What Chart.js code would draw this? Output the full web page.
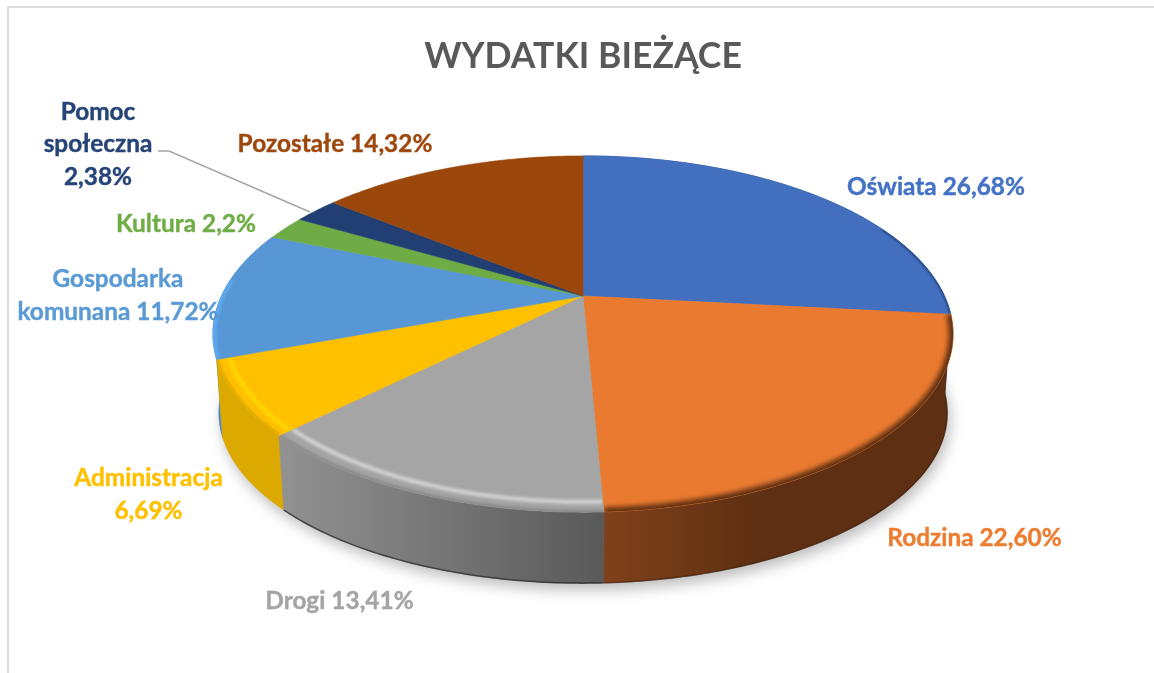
<!DOCTYPE html>
<html>
<head>
<meta charset="utf-8">
<title>Wydatki bieżące</title>
<script src="https://cdn.jsdelivr.net/npm/chart.js@4/dist/chart.umd.min.js"></script>
<style>
  html, body { margin: 0; padding: 0; background: #fff; overflow: hidden; }
  #frame { position: absolute; left: 7px; top: 6px; width: 1160px; height: 680px; border-left: 2px solid #dcdcdc; border-top: 2px solid #dcdcdc; }
  #wrap { position: absolute; left: 0; top: 0; width: 1154px; height: 673px; }
</style>
</head>
<body>
<div id="frame"></div>
<div id="wrap"><canvas id="myChart" width="1154" height="673"></canvas></div>
<script>
const categories = ["Oświata", "Rodzina", "Drogi", "Administracja", "Gospodarka komunana", "Kultura", "Pomoc społeczna", "Pozostałe"];
const shares = [26.68, 22.6, 13.41, 6.69, 11.72, 2.2, 2.38, 14.32];
const chartTitle = "WYDATKI BIEŻĄCE";

const sliceColors = ["#4270bf", "#ea7a30", "#a5a5a5", "#ffc000", "#5797d5", "#6fac46", "#223f74", "#9b470c"];
const textColors = ["#4472c4", "#ed7d31", "#a5a5a5", "#ffc000", "#5b9bd5", "#70ad47", "#264478", "#9e480e"];

// label text, one entry per line, centre x / y of each line
const labelLines = [
  { i: 0, text: "Oświata 26,68%", x: 936, y: 187 },
  { i: 1, text: "Rodzina 22,60%", x: 974.5, y: 538 },
  { i: 2, text: "Drogi 13,41%", x: 339.5, y: 601 },
  { i: 3, text: "Administracja", x: 148.5, y: 478 },
  { i: 3, text: "6,69%", x: 148.5, y: 511 },
  { i: 4, text: "Gospodarka", x: 118, y: 279 },
  { i: 4, text: "komunana 11,72%", x: 118, y: 312 },
  { i: 5, text: "Kultura 2,2%", x: 186, y: 224 },
  { i: 6, text: "Pomoc", x: 98, y: 112 },
  { i: 6, text: "społeczna", x: 98, y: 144 },
  { i: 6, text: "2,38%", x: 98, y: 177 },
  { i: 7, text: "Pozostałe 14,32%", x: 335, y: 144 },
];

// the pie lies flat and is seen from above: circle -> perspective projection
const cx = 583, cy = 296;
const radX = 361.5, radY = 170, persp = 0.2135;

function topPoint(a, r = 1) {
  const u = Math.cos(a) * r, v = Math.sin(a) * r;
  const s = 1 / (1 - persp * v);
  return [cx + radX * u * s, cy + radY * v * s];
}

function bottomPoint(a) {
  const p = topPoint(a);
  return [cx + (p[0] - cx) * 0.984, 413 + (p[1] - 334) * 0.955];
}

function arcAngles(start, end) {
  const out = [];
  const n = Math.max(2, Math.ceil((end - start) / 0.012));
  for (let k = 0; k <= n; k++) out.push(start + ((end - start) * k) / n);
  return out;
}

function wallFill(ctx, i) {
  if (i === 1) {
    const g = ctx.createLinearGradient(604, 0, 760, 0);
    g.addColorStop(0, "#7f411b");
    g.addColorStop(1, "#5e2f12");
    return g;
  }
  if (i === 2) {
    const g = ctx.createLinearGradient(285, 0, 604, 0);
    g.addColorStop(0, "#919191");
    g.addColorStop(1, "#595959");
    return g;
  }
  if (i === 3) return "#dca900";
  if (i === 4) return "#4a87c5";
  return "#2f4f85";
}

function drawShadow(ctx) {
  ctx.save();
  ctx.filter = "blur(7px)";
  ctx.fillStyle = "rgba(0,0,0,0.26)";
  ctx.beginPath();
  arcAngles(0, Math.PI * 2).forEach((a) => {
    const p = bottomPoint(a);
    ctx.lineTo(p[0] + 3, p[1] + 7);
  });
  ctx.closePath();
  ctx.fill();
  ctx.restore();
}

function drawWall(ctx, arc, i) {
  const angles = arcAngles(arc.startAngle, arc.endAngle);
  ctx.fillStyle = wallFill(ctx, i);
  ctx.strokeStyle = ctx.fillStyle;
  ctx.lineWidth = 0.7;
  ctx.beginPath();
  angles.forEach((a) => ctx.lineTo(...topPoint(a)));
  angles.slice().reverse().forEach((a) => ctx.lineTo(...bottomPoint(a)));
  ctx.closePath();
  ctx.fill();
  ctx.stroke();
  if (i === 2 || i === 1) {
    ctx.strokeStyle = i === 2 ? "rgba(40,40,40,0.75)" : "rgba(60,30,10,0.6)";
    ctx.lineWidth = 1.5;
    ctx.beginPath();
    angles.forEach((a) => ctx.lineTo(...bottomPoint(a)));
    ctx.stroke();
  }
}

function slicePath(ctx, arc) {
  ctx.beginPath();
  ctx.moveTo(cx, cy);
  arcAngles(arc.startAngle, arc.endAngle).forEach((a) => ctx.lineTo(...topPoint(a)));
  ctx.closePath();
}

function rimStroke(ctx, start, end, r, color, width, blur) {
  ctx.save();
  ctx.filter = `blur(${blur}px)`;
  ctx.strokeStyle = color;
  ctx.lineWidth = width;
  ctx.beginPath();
  arcAngles(start, end).forEach((a) => ctx.lineTo(...topPoint(a, r)));
  ctx.stroke();
  ctx.restore();
}

function drawCap(ctx, arc, i) {
  const a0 = arc.startAngle, a1 = arc.endAngle;
  slicePath(ctx, arc);
  ctx.fillStyle = arc.options.backgroundColor;
  ctx.strokeStyle = arc.options.backgroundColor;
  ctx.lineWidth = 0.6;
  ctx.fill();
  ctx.stroke();

  ctx.save();
  slicePath(ctx, arc);
  ctx.clip();
  if (i === 0) rimStroke(ctx, a1 - 0.55, a1, 1, "#233f72", 2.5, 1);
  if (i === 1) rimStroke(ctx, a0, a1, 1, "#5e2f12", 9, 2.5);
  if (i === 2) {
    rimStroke(ctx, a0, a1, 0.962, "#d4d4d4", 4, 1.8);
    rimStroke(ctx, a0, a1, 1, "#8a8a8a", 5, 1.5);
  }
  if (i === 3) {
    rimStroke(ctx, a0, a1, 0.968, "#ffd900", 4, 1.5);
    rimStroke(ctx, a0, a1, 1, "#dfa800", 4, 1);
  }
  if (i === 4) rimStroke(ctx, a0, a0 + 0.45, 1, "#5cabf0", 7, 1.5);
  ctx.restore();
}

const pie3d = {
  id: "pie3d",
  // chart.js worked out the slice angles, only the painting is done here
  beforeDatasetDraw(chart) {
    const ctx = chart.ctx;
    const arcs = chart.getDatasetMeta(0).data;
    drawShadow(ctx);
    [4, 3, 0, 1, 2].forEach((i) => drawWall(ctx, arcs[i], i));
    arcs.forEach((arc, i) => drawCap(ctx, arc, i));
    return false;
  },
  afterDraw(chart) {
    const ctx = chart.ctx;
    ctx.save();
    // leader line of the small slice
    ctx.strokeStyle = "#a6a6a6";
    ctx.lineWidth = 1.6;
    ctx.beginPath();
    ctx.moveTo(158, 151);
    ctx.lineTo(169, 151);
    ctx.lineTo(310, 212);
    ctx.stroke();

    ctx.font = "bold 24.4px Lato";
    ctx.textAlign = "center";
    ctx.textBaseline = "middle";
    ctx.lineWidth = 0.4;
    labelLines.forEach((l) => {
      ctx.fillStyle = textColors[l.i];
      ctx.strokeStyle = textColors[l.i];
      ctx.fillText(l.text, l.x, l.y);
      ctx.strokeText(l.text, l.x, l.y);
    });
    ctx.restore();
  },
};

const ctx = document.getElementById("myChart");

const chart = new Chart(ctx, {
  type: "pie",
  data: {
    labels: categories,
    datasets: [
      {
        data: shares,
        backgroundColor: sliceColors,
        borderWidth: 0,
      },
    ],
  },
  options: {
    responsive: false,
    animation: false,
    layout: { padding: { left: 12, top: 35 } },
    plugins: {
      legend: { display: false },
      tooltip: { enabled: false },
      title: {
        display: true,
        text: chartTitle,
        color: "#595959",
        font: { family: "Lato", size: 35.6, weight: "bold" },
        padding: 0,
      },
    },
  },
  plugins: [pie3d],
});
</script>
</body>
</html>
